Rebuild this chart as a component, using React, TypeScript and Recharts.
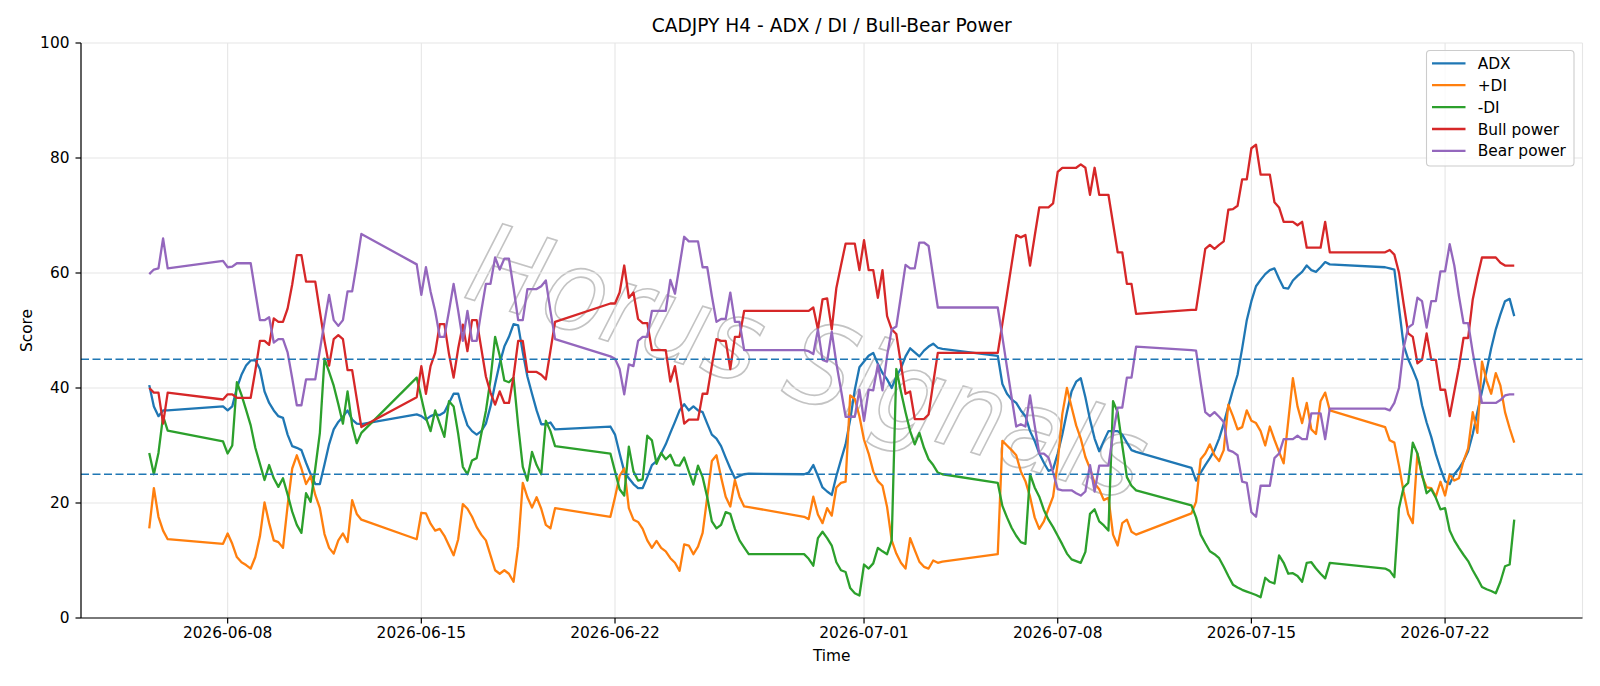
import React from 'react';
import { LineChart, Line, XAxis, YAxis, CartesianGrid, ReferenceLine } from 'recharts';

// H4 trading sessions: first bar of each session (UTC) and number of bars in it
const sessionStarts = [
  '2026-06-05T04:00:00Z',
  '2026-06-07T20:00:00Z',
  '2026-06-14T20:00:00Z',
  '2026-06-21T20:00:00Z',
  '2026-06-28T20:00:00Z',
  '2026-07-05T20:00:00Z',
  '2026-07-12T20:00:00Z',
  '2026-07-19T20:00:00Z',
];
const sessionBars = [5, 31, 31, 31, 31, 31, 31, 29];

const adx = [
  40.5, 36.8, 35.1, 36.1, 36.1,
  36.8, 36.1, 36.8, 40.0, 42.3, 43.9, 44.8, 44.8, 43.3, 39.4, 37.4, 36.1, 35.1, 34.8, 31.9, 29.9, 29.6, 29.2, 27.0, 25.0, 23.3, 23.3, 26.7, 30.2, 32.8, 34.1, 35.0, 36.1, 34.5, 33.8, 33.7,
  35.4, 35.1, 34.5, 35.1, 35.4, 35.3, 35.8, 37.4, 39.0, 39.0, 36.0, 33.5, 32.5, 31.9, 32.5, 33.8, 36.8, 40.7, 44.3, 47.2, 48.9, 51.1, 50.9, 46.2, 42.0, 39.0, 36.1, 33.7, 33.7, 34.0, 32.8,
  33.3, 31.9, 28.6, 25.5, 24.3, 23.3, 22.6, 22.6, 24.5, 26.6, 27.3, 28.6, 30.2, 32.2, 34.1, 36.1, 37.2, 36.1, 36.8, 36.1, 35.8, 33.8, 31.9, 31.2, 29.9, 27.9, 26.0, 24.3, 24.7, 25.0, 25.1,
  25.0, 25.3, 26.6, 24.7, 22.7, 22.0, 21.4, 24.7, 27.5, 30.2, 34.5, 39.7, 43.6, 44.6, 45.6, 46.1, 44.2, 42.6, 41.5, 40.0, 42.0, 43.4, 45.5, 46.9, 46.2, 45.5, 46.5, 47.2, 47.7, 47.0, 46.8,
  45.6, 40.7, 39.0, 38.0, 37.4, 36.1, 35.1, 32.5, 30.8, 28.6, 27.0, 25.6, 25.9, 28.6, 31.9, 35.8, 39.4, 41.1, 41.7, 38.4, 34.5, 31.2, 29.0, 30.8, 32.5, 32.5, 32.5, 31.9, 30.5, 29.2, 28.9,
  26.1, 23.9, 25.3, 26.6, 27.8, 29.2, 31.2, 33.8, 36.8, 39.7, 42.3, 46.9, 51.8, 55.1, 57.7, 58.8, 59.8, 60.5, 60.8, 59.0, 57.4, 57.3, 58.7, 59.5, 60.2, 61.3, 60.5, 60.2, 61.0, 61.9, 61.5,
  61.0, 60.8, 60.6, 54.0, 47.5, 45.0, 43.2, 41.2, 37.0, 34.0, 31.5, 28.5, 26.0, 23.8, 23.3, 25.0, 26.0, 27.3, 29.0, 32.0, 35.8, 39.4, 43.0, 46.9, 50.2, 52.8, 55.1, 55.5, 52.5,
];

const plusDi = [
  15.6, 22.6, 17.6, 15.2, 13.7,
  12.9, 14.7, 12.9, 10.6, 9.7, 9.2, 8.6, 10.6, 14.2, 20.1, 16.5, 13.5, 13.2, 12.2, 19.5, 26.0, 28.3, 26.0, 23.3, 24.7, 21.4, 19.1, 14.6, 12.2, 11.2, 13.5, 14.7, 13.2, 20.5, 18.1, 17.1,
  13.7, 18.3, 18.2, 16.4, 15.2, 15.5, 14.3, 12.6, 10.9, 13.7, 19.8, 19.0, 17.6, 15.8, 14.5, 13.5, 10.9, 8.3, 7.7, 8.3, 7.7, 6.3, 12.5, 23.5, 21.0, 19.2, 21.0, 19.0, 16.2, 15.6, 19.1,
  17.6, 21.0, 24.7, 26.0, 19.1, 17.1, 16.7, 15.5, 13.5, 12.2, 13.4, 12.2, 11.6, 10.4, 9.6, 8.2, 12.8, 12.6, 11.1, 12.4, 14.8, 21.0, 27.3, 28.3, 24.5, 21.1, 19.4, 24.0, 21.1, 19.4, 19.3,
  17.6, 17.2, 21.1, 18.0, 16.5, 19.1, 17.8, 22.7, 23.5, 23.7, 38.7, 38.1, 35.1, 31.0, 28.6, 25.5, 23.8, 23.0, 19.3, 13.5, 11.2, 9.6, 8.6, 13.9, 11.8, 9.8, 8.9, 8.6, 10.0, 9.6, 9.8,
  11.1, 30.8, 30.0, 29.2, 28.3, 25.5, 23.8, 21.1, 17.5, 15.5, 16.8, 19.0, 21.1, 27.0, 35.5, 40.0, 36.7, 33.5, 31.2, 28.0, 26.0, 23.4, 22.4, 20.5, 20.9, 14.5, 12.6, 16.5, 17.1, 15.0, 14.5,
  18.2, 20.2, 27.6, 28.6, 30.2, 28.3, 27.3, 29.2, 37.1, 35.1, 32.8, 33.2, 36.1, 34.3, 33.9, 32.5, 30.0, 33.3, 31.0, 28.9, 26.9, 34.3, 41.7, 36.8, 33.9, 37.4, 32.8, 32.0, 37.7, 39.2, 36.1,
  33.2, 30.9, 30.5, 26.5, 22.0, 18.1, 16.5, 28.6, 24.7, 22.7, 22.6, 21.1, 23.7, 21.3, 25.0, 23.9, 24.3, 27.3, 29.5, 35.8, 32.2, 44.6, 41.3, 39.0, 42.6, 40.4, 35.8, 33.0, 30.5,
];

const minusDi = [
  28.7, 25.0, 28.7, 35.1, 32.6,
  30.7, 28.6, 30.0, 41.0, 38.8, 36.2, 33.5, 29.6, 26.8, 24.0, 26.6, 24.3, 22.8, 24.3, 21.5, 18.5, 16.2, 14.8, 21.7, 20.2, 26.0, 32.2, 45.1, 42.8, 40.4, 37.2, 33.8, 39.4, 33.5, 30.4, 32.2,
  41.8, 38.3, 34.8, 32.5, 36.1, 33.8, 31.5, 37.7, 36.8, 32.0, 26.3, 25.0, 27.4, 27.8, 32.0, 36.0, 41.5, 48.9, 45.6, 41.3, 41.0, 41.8, 33.5, 26.3, 23.9, 28.9, 26.6, 25.0, 34.3, 32.5, 29.9,
  28.6, 25.5, 22.4, 21.3, 29.8, 25.5, 23.9, 24.1, 31.7, 30.9, 26.8, 28.7, 27.6, 28.4, 26.6, 26.5, 27.9, 25.5, 23.2, 26.5, 24.5, 21.0, 16.8, 15.6, 16.2, 18.4, 18.1, 15.5, 13.5, 12.3, 11.1,
  11.1, 10.3, 9.1, 13.9, 15.0, 13.9, 12.6, 9.7, 8.3, 8.0, 5.2, 4.3, 3.9, 9.3, 8.6, 9.5, 12.2, 11.6, 11.1, 13.5, 43.3, 39.4, 35.8, 32.5, 30.2, 32.2, 29.6, 27.6, 26.6, 25.3, 25.0,
  23.5, 19.5, 17.5, 15.7, 14.3, 13.2, 12.9, 25.0, 22.7, 21.1, 18.8, 17.1, 15.8, 14.3, 12.8, 11.2, 10.2, 9.9, 9.6, 11.5, 18.1, 18.9, 16.8, 16.1, 15.2, 37.7, 35.8, 30.0, 24.5, 23.0, 22.2,
  19.6, 17.5, 14.5, 13.0, 11.6, 11.1, 10.4, 8.9, 7.3, 5.8, 5.3, 4.9, 4.6, 4.3, 4.0, 3.6, 7.0, 6.3, 6.0, 10.9, 9.6, 7.7, 7.8, 7.3, 6.3, 9.6, 9.7, 8.6, 7.7, 6.9, 9.6,
  8.6, 8.2, 7.1, 19.1, 22.7, 23.5, 30.5, 28.6, 25.0, 21.7, 22.4, 20.9, 18.9, 19.1, 15.2, 13.5, 12.2, 11.0, 9.9, 8.3, 6.9, 5.4, 5.0, 4.7, 4.3, 6.3, 9.0, 9.3, 17.1,
];

const bullPower = [
  40.0, 39.2, 39.2, 33.8, 39.2,
  38.0, 38.9, 38.9, 38.3, 38.3, 38.3, 38.3, 43.0, 48.2, 48.2, 47.5, 52.1, 51.5, 51.5, 53.8, 58.0, 63.1, 63.1, 58.5, 58.5, 58.5, 53.3, 48.2, 43.9, 48.5, 49.2, 48.5, 43.1, 43.1, 38.1, 33.2,
  38.4, 43.8, 39.0, 43.8, 46.1, 51.1, 51.1, 45.9, 41.8, 46.9, 51.0, 46.4, 51.8, 51.8, 46.9, 42.0, 39.2, 37.1, 39.4, 37.4, 37.4, 42.0, 48.2, 48.2, 42.8, 42.8, 42.8, 42.3, 41.5, 46.5, 51.5,
  54.7, 54.7, 56.6, 61.3, 55.7, 56.6, 52.0, 51.3, 51.3, 46.6, 46.6, 46.6, 46.6, 41.1, 43.8, 38.9, 33.8, 34.5, 34.5, 34.5, 39.0, 39.0, 43.9, 48.5, 48.2, 48.2, 43.3, 48.9, 48.9, 53.4, 53.4,
  53.4, 53.4, 54.0, 50.2, 55.4, 55.6, 50.2, 57.4, 61.3, 65.1, 65.1, 65.1, 60.5, 65.7, 60.5, 60.5, 55.7, 60.5, 52.5, 50.2, 49.4, 44.2, 39.0, 39.4, 34.6, 34.6, 34.6, 35.4, 40.9, 46.1, 46.1,
  46.1, 51.2, 56.3, 61.5, 66.6, 66.2, 66.6, 61.3, 66.4, 71.4, 71.4, 71.4, 72.1, 77.6, 78.3, 78.3, 78.3, 78.3, 78.9, 78.3, 73.6, 78.3, 73.6, 73.6, 73.6, 68.6, 63.6, 63.6, 58.1, 58.1, 52.9,
  53.6, 53.6, 58.9, 64.2, 64.9, 64.2, 64.9, 65.5, 71.0, 71.1, 71.7, 76.3, 76.3, 81.7, 82.3, 77.1, 77.1, 77.1, 72.3, 71.4, 68.9, 68.9, 68.9, 68.3, 68.9, 64.4, 64.4, 64.4, 64.4, 68.9, 63.6,
  63.6, 64.0, 63.2, 60.1, 54.7, 49.5, 48.9, 44.3, 44.9, 49.5, 44.9, 44.9, 39.7, 39.7, 35.1, 39.4, 43.6, 48.7, 48.7, 55.4, 59.3, 62.7, 62.7, 62.7, 62.7, 61.8, 61.3, 61.3, 61.3,
];

const bearPower = [
  59.8, 60.6, 60.8, 66.0, 60.8,
  62.1, 61.0, 61.1, 61.7, 61.7, 61.7, 61.7, 56.7, 51.8, 51.8, 52.3, 47.9, 48.5, 48.5, 46.2, 41.7, 37.0, 37.0, 41.5, 41.5, 41.5, 46.6, 51.5, 56.2, 51.8, 50.8, 51.8, 56.8, 56.8, 61.6, 66.8,
  61.5, 56.2, 61.0, 56.8, 53.4, 48.9, 48.9, 53.4, 58.1, 53.4, 48.2, 53.4, 48.2, 48.2, 53.4, 58.1, 58.1, 62.7, 60.6, 62.5, 62.5, 57.4, 51.8, 51.8, 57.2, 57.2, 57.2, 57.7, 58.7, 53.4, 48.5,
  45.5, 45.1, 43.3, 38.9, 44.1, 43.8, 48.2, 48.9, 48.9, 53.4, 53.4, 53.4, 53.4, 58.8, 56.4, 61.3, 66.3, 65.5, 65.5, 65.5, 61.0, 61.0, 56.0, 51.5, 52.0, 52.0, 56.6, 51.5, 51.5, 46.6, 46.6,
  46.6, 46.4, 45.9, 50.2, 44.9, 44.6, 49.8, 44.3, 39.7, 35.0, 35.0, 35.0, 39.7, 34.3, 39.7, 39.6, 44.1, 39.6, 45.6, 50.2, 50.7, 56.0, 61.4, 60.8, 60.8, 65.3, 65.3, 64.7, 59.3, 54.0, 54.0,
  54.0, 48.9, 43.6, 38.4, 33.3, 33.7, 33.3, 38.7, 33.5, 28.6, 28.6, 27.9, 25.3, 22.4, 22.2, 22.2, 22.2, 21.7, 21.3, 22.0, 26.6, 22.0, 26.5, 26.5, 26.5, 32.0, 36.6, 36.6, 41.8, 41.8, 47.2,
  46.6, 46.5, 41.0, 35.8, 35.1, 35.8, 35.0, 34.1, 29.2, 28.9, 28.3, 23.7, 23.5, 18.4, 17.6, 23.0, 23.0, 23.0, 27.8, 28.6, 31.1, 31.1, 31.1, 31.7, 31.1, 31.1, 35.6, 35.6, 35.6, 31.1, 36.4,
  36.4, 36.1, 37.4, 40.0, 46.9, 50.5, 51.1, 55.7, 55.1, 50.5, 55.1, 55.1, 60.3, 60.3, 65.0, 61.3, 56.0, 51.3, 51.3, 46.2, 41.7, 37.4, 37.4, 37.4, 37.4, 37.9, 38.7, 38.9, 38.9,
];

const xTickLabels = ['2026-06-08', '2026-06-15', '2026-06-22', '2026-07-01', '2026-07-08', '2026-07-15', '2026-07-22'];
const yTicks = [0, 20, 40, 60, 80, 100];
const thresholds = [45, 25];

const seriesDefs = [
  { key: 'adx', name: 'ADX', color: '#1f77b4' },
  { key: 'plusDi', name: '+DI', color: '#ff7f0e' },
  { key: 'minusDi', name: '-DI', color: '#2ca02c' },
  { key: 'bull', name: 'Bull power', color: '#d62728' },
  { key: 'bear', name: 'Bear power', color: '#9467bd' },
];

const H4_MS = 4 * 3600 * 1000;
const times: number[] = sessionStarts.flatMap((s, i) =>
  Array.from({ length: sessionBars[i] }, (_, k) => Date.parse(s) + k * H4_MS)
);

const rows = times.map((t, i) => ({
  t,
  adx: adx[i],
  plusDi: plusDi[i],
  minusDi: minusDi[i],
  bull: bullPower[i],
  bear: bearPower[i],
}));

const tMin = times[0];
const tMax = times[times.length - 1];
const pad = (tMax - tMin) * 0.05;
const xDomain: [number, number] = [tMin - pad, tMax + pad];
const xTicks = xTickLabels.map((d) => Date.parse(d + 'T00:00:00Z'));
const fmtDate = (v: number) => new Date(v).toISOString().slice(0, 10);

const FONT = "'DejaVu Sans', Verdana, sans-serif";
const W = 1600;
const H = 686;
const PLOT = { left: 81, right: 1582.5, top: 43, bottom: 618 };

const tickStyle = { fontSize: 15.4, fill: '#000', fontFamily: FONT };
const layer: React.CSSProperties = { position: 'absolute', left: 0, top: 0 };

export default function App() {
  const midX = (PLOT.left + PLOT.right) / 2;
  const legendX = 1426.5;
  const legendY = 50.5;
  return (
    <div style={{ position: 'absolute', left: 0, top: 0, width: W, height: H, background: '#fff' }}>
      {/* outlined watermark sits underneath the series */}
      <svg width={W} height={H} style={{ ...layer, pointerEvents: 'none' }} fontFamily={FONT}>
        <text
          x={797}
          y={399}
          textAnchor="middle"
          fontSize={112}
          fontStyle="italic"
          textLength={700}
          lengthAdjust="spacingAndGlyphs"
          fill="none"
          stroke="#b8b8b8"
          strokeWidth={1.7}
          strokeOpacity={0.85}
          transform="rotate(17 797 399)"
        >
          Horus Signals
        </text>
      </svg>

      <div style={layer}>
        <LineChart
          width={W}
          height={H}
          data={rows}
          margin={{ top: PLOT.top, right: W - PLOT.right, bottom: 0, left: 0 }}
        >
          <CartesianGrid xAxisId="b" yAxisId="l" stroke="#e6e6e6" strokeWidth={1.1} />
          <XAxis
            xAxisId="b"
            dataKey="t"
            type="number"
            domain={xDomain}
            allowDataOverflow
            ticks={xTicks}
            interval={0}
            tickFormatter={fmtDate}
            height={H - PLOT.bottom}
            tick={tickStyle}
            tickSize={5.5}
            tickMargin={4}
            tickLine={{ stroke: '#000', strokeWidth: 1.2 }}
            axisLine={{ stroke: '#000', strokeWidth: 1.2 }}
          />
          <XAxis
            xAxisId="top"
            orientation="top"
            dataKey="t"
            type="number"
            domain={xDomain}
            allowDataOverflow
            height={0}
            tick={false}
            tickLine={false}
            axisLine={{ stroke: '#000', strokeWidth: 1.2 }}
          />
          <YAxis
            yAxisId="l"
            type="number"
            domain={[0, 100]}
            ticks={yTicks}
            interval={0}
            width={PLOT.left}
            tick={tickStyle}
            tickSize={5.5}
            tickMargin={6}
            tickLine={{ stroke: '#000', strokeWidth: 1.2 }}
            axisLine={{ stroke: '#000', strokeWidth: 1.2 }}
          />
          <YAxis
            yAxisId="r"
            orientation="right"
            type="number"
            domain={[0, 100]}
            width={0}
            tick={false}
            tickLine={false}
            axisLine={{ stroke: '#000', strokeWidth: 1.2 }}
          />
          {seriesDefs.map((s) => (
            <Line
              key={s.key}
              xAxisId="b"
              yAxisId="l"
              type="linear"
              dataKey={s.key}
              name={s.name}
              stroke={s.color}
              strokeWidth={2.3}
              strokeLinejoin="round"
              dot={false}
              activeDot={false}
              isAnimationActive={false}
            />
          ))}
          {thresholds.map((y) => (
            <ReferenceLine
              key={y}
              xAxisId="b"
              yAxisId="l"
              y={y}
              stroke="#1f77b4"
              strokeWidth={1.5}
              strokeDasharray="8 3.5"
            />
          ))}
        </LineChart>
      </div>

      <svg width={W} height={H} style={{ ...layer, pointerEvents: 'none' }} fontFamily={FONT}>
        <text x={midX} y={32} textAnchor="middle" fontSize={18.6} fill="#000">
          CADJPY H4 - ADX / DI / Bull-Bear Power
        </text>
        <text x={midX} y={661} textAnchor="middle" fontSize={15.4} fill="#000">
          Time
        </text>
        <text
          x={31.5}
          y={330.5}
          textAnchor="middle"
          fontSize={15.4}
          fill="#000"
          transform="rotate(-90 31.5 330.5)"
        >
          Score
        </text>

        <rect
          x={legendX}
          y={legendY}
          width={147.5}
          height={115.5}
          rx={3.5}
          fill="#fff"
          fillOpacity={0.8}
          stroke="#cccccc"
          strokeWidth={1.1}
        />
        {seriesDefs.map((s, i) => {
          const cy = 63.3 + i * 21.9;
          return (
            <g key={s.key}>
              <line x1={1432} x2={1465.5} y1={cy} y2={cy} stroke={s.color} strokeWidth={2.3} />
              <text x={1477.7} y={cy + 5.5} fontSize={15.4} fill="#000">
                {s.name}
              </text>
            </g>
          );
        })}
      </svg>
    </div>
  );
}
